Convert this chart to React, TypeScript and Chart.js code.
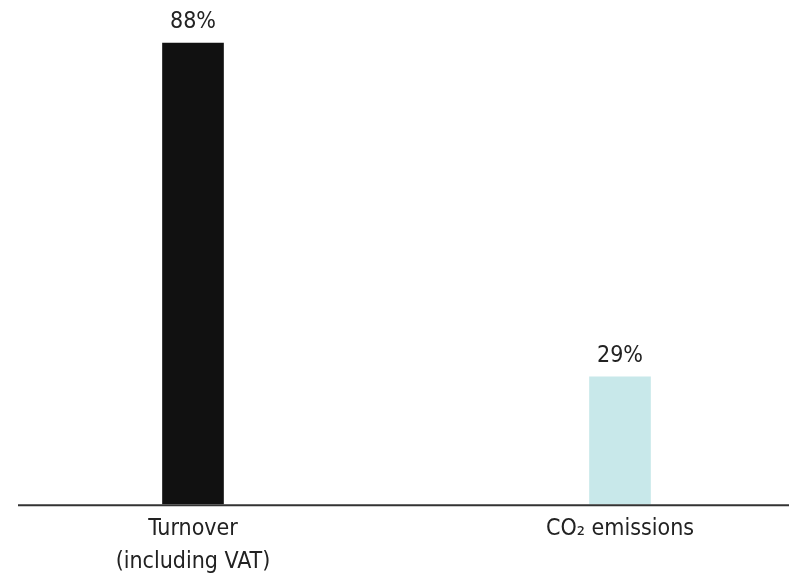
import React, { useEffect, useRef } from 'react';
import { Chart, registerables, Plugin } from 'chart.js';

Chart.register(...registerables);

const categories: (string | string[])[] = [['Turnover', '(including VAT)'], 'CO\u2082 emissions'];
const shares: number[] = [88, 29];
const barColors: string[] = ['#111111', '#c8e8ea'];

const FONT = "'Liberation Sans Narrow', 'DejaVu Sans Condensed', 'Arial Narrow', sans-serif";
const FONT_SIZE = 23;

// value labels above each bar
const valueLabels: Plugin<'bar'> = {
  id: 'valueLabels',
  afterDatasetsDraw(chart) {
    const { ctx } = chart;
    const meta = chart.getDatasetMeta(0);
    ctx.save();
    ctx.font = `${FONT_SIZE}px ${FONT}`;
    ctx.fillStyle = '#222222';
    ctx.textAlign = 'center';
    ctx.textBaseline = 'alphabetic';
    meta.data.forEach((bar, i) => {
      ctx.fillText(`${shares[i]}%`, bar.x, bar.y - 15);
    });
    ctx.restore();
  },
};

// baseline running across the whole width
const baseLine: Plugin<'bar'> = {
  id: 'baseLine',
  afterDatasetsDraw(chart) {
    const { ctx, chartArea, width } = chart;
    ctx.save();
    ctx.strokeStyle = '#333333';
    ctx.lineWidth = 2;
    ctx.beginPath();
    ctx.moveTo(18, chartArea.bottom + 1);
    ctx.lineTo(width, chartArea.bottom + 1);
    ctx.stroke();
    ctx.restore();
  },
};

const App: React.FC = () => {
  const chartRef = useRef<HTMLCanvasElement>(null);
  const chartInstance = useRef<Chart<'bar'> | null>(null);

  useEffect(() => {
    if (!chartRef.current) return;
    if (chartInstance.current) chartInstance.current.destroy();

    chartInstance.current = new Chart(chartRef.current, {
      type: 'bar',
      data: {
        labels: categories,
        datasets: [
          {
            data: shares,
            backgroundColor: barColors,
            barThickness: 61,
            // bars sit on the category edges, so only clip at the bottom
            clip: { left: false, right: false, top: false, bottom: 0 },
          },
        ],
      },
      options: {
        animation: false,
        responsive: true,
        maintainAspectRatio: false,
        layout: { padding: { left: 193, right: 169, top: 43, bottom: -6 } },
        plugins: {
          legend: { display: false },
          tooltip: { enabled: false },
        },
        scales: {
          x: {
            offset: false,
            grid: { display: false, drawTicks: false },
            border: { display: false },
            ticks: {
              color: '#222222',
              padding: 8,
              maxRotation: 0,
              autoSkip: false,
              font: { family: FONT, size: FONT_SIZE, lineHeight: 1.43 },
            },
          },
          y: {
            display: false,
            min: 6.5,
            max: 88,
          },
        },
      },
      plugins: [valueLabels, baseLine],
    });

    return () => {
      if (chartInstance.current) {
        chartInstance.current.destroy();
        chartInstance.current = null;
      }
    };
  }, []);

  return (
    <div style={{ position: 'fixed', left: 0, top: 0, width: 789, height: 580, background: '#ffffff' }}>
      <canvas ref={chartRef} />
    </div>
  );
};

export default App;
